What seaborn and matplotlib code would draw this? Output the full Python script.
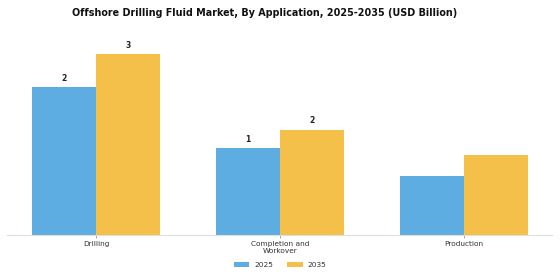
import matplotlib
matplotlib.use("Agg")
import matplotlib.pyplot as plt
import seaborn as sns
import pandas as pd

categories = ["Drilling", "Completion and\nWorkover", "Production"]
years = ["2025", "2035"]
values_2025 = [2.17, 1.28, 0.87]
values_2035 = [2.66, 1.55, 1.17]
labels_2025 = ["2", "1", ""]
labels_2035 = ["3", "2", ""]
colors = ["#5DADE2", "#F5C04A"]

df = pd.DataFrame({
    "Application": categories * 2,
    "Year": [years[0]] * 3 + [years[1]] * 3,
    "Value": values_2025 + values_2035,
})

sns.set_theme(style="white")
plt.rcParams["font.family"] = ["DejaVu Sans"]

fig = plt.figure(figsize=(5.6, 2.8), dpi=100)
ax = fig.add_axes([7 / 560, 45 / 280, 545 / 560, 204 / 280])

sns.barplot(data=df, x="Application", y="Value", hue="Year",
            palette=colors, width=0.7, saturation=1, ax=ax, linewidth=0)

for container, labs in zip(ax.containers, [labels_2025, labels_2035]):
    ax.bar_label(container, labels=labs, padding=3, fontsize=5.5,
                 fontweight="bold", color="#222222")

ax.set_xlim(-0.484, 2.478)
ax.set_ylim(0, 3.0)
ax.set_xlabel("")
ax.set_ylabel("")
ax.set_yticks([])
for s in ["top", "right", "left"]:
    ax.spines[s].set_visible(False)
ax.spines["bottom"].set_color("#dddddd")
ax.spines["bottom"].set_linewidth(0.8)
ax.tick_params(axis="x", length=2, width=0.6, color="#999999", direction="out",
               bottom=True, labelsize=5.3, labelcolor="#333333", pad=2)

fig.suptitle("Offshore Drilling Fluid Market, By Application, 2025-2035 (USD Billion)",
             x=0.472, y=0.972, fontsize=6.9, fontweight="bold", color="#111111")

handles, labs = ax.get_legend_handles_labels()
ax.legend(handles, labs, loc="center", bbox_to_anchor=(280 / 560, 15 / 280),
          bbox_transform=fig.transFigure, ncol=2, frameon=False, fontsize=5.3,
          handlelength=2.1, handleheight=0.7, columnspacing=1.9, handletextpad=0.7,
          labelcolor="#333333")

fig.savefig("out.png", dpi=100, facecolor="white")
